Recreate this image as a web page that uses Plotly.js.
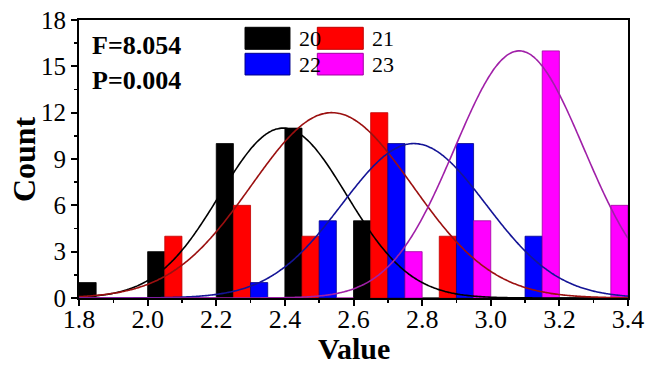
<!DOCTYPE html>
<html>
<head>
<meta charset="utf-8">
<script src="https://cdn.plot.ly/plotly-3.0.1.min.js"></script>
<style>html,body{margin:0;padding:0;background:#fff;}#chart{width:646px;height:365px;}</style>
</head>
<body>
<div id="chart"></div>
<script>
// ---- data ----
const binStarts = [1.8, 2.0, 2.2, 2.4, 2.6, 2.8, 3.0, 3.2];
const seriesNames = ["20", "21", "22", "23"];
const counts20 = [1, 3, 10, 11, 5, 0, 0, 0];
const counts21 = [0, 4, 6, 4, 12, 4, 0, 0];
const counts22 = [0, 0, 1, 5, 10, 10, 4, 0];
const counts23 = [0, 0, 0, 0, 3, 5, 16, 6];
// normal-fit parameters for each series (mean, standard deviation, peak height)
const fitMean = [2.395, 2.537, 2.776, 3.083];
const fitSigma = [0.185, 0.235, 0.21, 0.188];
const fitPeak = [11, 12, 10, 16];
const statF = "F=8.054";
const statP = "P=0.004";
const xTitle = "Value";
const yTitle = "Count";

// ---- styles ----
const barColors = ["#000000", "#ff0000", "#0000ff", "#ff00ff"];
const barEdge = ["#000000", "#c00000", "#00008b", "#a000a0"];
const curveColors = ["#000000", "#9b1010", "#141496", "#a020a8"];
const barWidth = 0.05;
const allCounts = [counts20, counts21, counts22, counts23];

const traces = [];
allCounts.forEach((c, i) => {
  traces.push({
    type: "bar", x: binStarts, y: c, width: barWidth, offset: i * barWidth,
    marker: {color: barColors[i], line: {color: barEdge[i], width: 0.8}},
    showlegend: false, hoverinfo: "skip"
  });
});
// fitted normal curves
const xs = [];
for (let k = 0; k <= 320; k++) xs.push(1.8 + k * 0.005);
fitMean.forEach((m, i) => {
  const s = fitSigma[i];
  traces.push({
    type: "scatter", mode: "lines", x: xs,
    y: xs.map(v => fitPeak[i] * Math.exp(-0.5 * Math.pow((v - m) / s, 2))),
    line: {color: curveColors[i], width: 1.6, shape: "spline"},
    showlegend: false, hoverinfo: "skip"
  });
});

const serif = "Liberation Serif";
const shapes = [];
const annotations = [];
// manual legend (2 x 2)
const legX = [[0.3024, 0.3843], [0.4341, 0.5178]];
const legY = [[0.8946, 0.9737], [0.8022, 0.8802]];
const legTextX = [0.3965, 0.530];
const legTextY = [0.934, 0.8417];
seriesNames.forEach((n, i) => {
  const col = i % 2, row = Math.floor(i / 2);
  shapes.push({type: "rect", xref: "paper", yref: "paper",
    x0: legX[col][0], x1: legX[col][1], y0: legY[row][0], y1: legY[row][1],
    fillcolor: barColors[i], line: {color: barEdge[i], width: 1}});
  annotations.push({xref: "paper", yref: "paper", x: legTextX[col], y: legTextY[row],
    xanchor: "left", yanchor: "middle", showarrow: false, text: n,
    font: {family: serif, size: 22, color: "#000"}});
});
annotations.push({xref: "paper", yref: "paper", x: 0.02, y: 0.91, xanchor: "left", yanchor: "middle",
  showarrow: false, text: "<b>" + statF + "</b>", font: {family: serif, size: 26, color: "#000"}});
annotations.push({xref: "paper", yref: "paper", x: 0.02, y: 0.784, xanchor: "left", yanchor: "middle",
  showarrow: false, text: "<b>" + statP + "</b>", font: {family: serif, size: 26, color: "#000"}});
// axis titles
annotations.push({xref: "paper", yref: "paper", x: 0.5, y: -0.181, xanchor: "center", yanchor: "middle",
  borderpad: 0, showarrow: false, text: "<b>" + xTitle + "</b>", font: {family: serif, size: 30, color: "#000"}});
annotations.push({xref: "paper", yref: "paper", x: -0.1, y: 0.5, xanchor: "center", yanchor: "middle",
  textangle: -90, showarrow: false, text: "<b>" + yTitle + "</b>", font: {family: serif, size: 32, color: "#000"}});

const layout = {
  width: 646, height: 365,
  margin: {l: 79, r: 18, t: 20, b: 67, pad: 0},
  paper_bgcolor: "#fff", plot_bgcolor: "#fff",
  barmode: "overlay",
  showlegend: false,
  font: {family: serif, color: "#000"},
  xaxis: {
    range: [1.8, 3.4], dtick: 0.2, tick0: 1.8, tickformat: ".1f",
    ticks: "outside", ticklen: 6, tickwidth: 2, tickcolor: "#000",
    minor: {dtick: 0.1, ticks: "outside", ticklen: 3, tickwidth: 1.5, tickcolor: "#000"},
    showline: true, linewidth: 2, linecolor: "#000", mirror: true,
    showgrid: false, zeroline: false, ticklabelstandoff: -9,
    tickfont: {family: serif, size: 26, color: "#000"}
  },
  yaxis: {
    range: [0, 18], dtick: 3, tick0: 0,
    ticks: "outside", ticklen: 6, tickwidth: 2, tickcolor: "#000",
    minor: {dtick: 1.5, ticks: "outside", ticklen: 3, tickwidth: 1.5, tickcolor: "#000"},
    showline: true, linewidth: 2, linecolor: "#000", mirror: true,
    showgrid: false, zeroline: false,
    tickfont: {family: serif, size: 25, color: "#000"}
  },
  shapes: shapes,
  annotations: annotations
};

Plotly.newPlot("chart", traces, layout, {displayModeBar: false, staticPlot: true});
</script>
</body>
</html>
